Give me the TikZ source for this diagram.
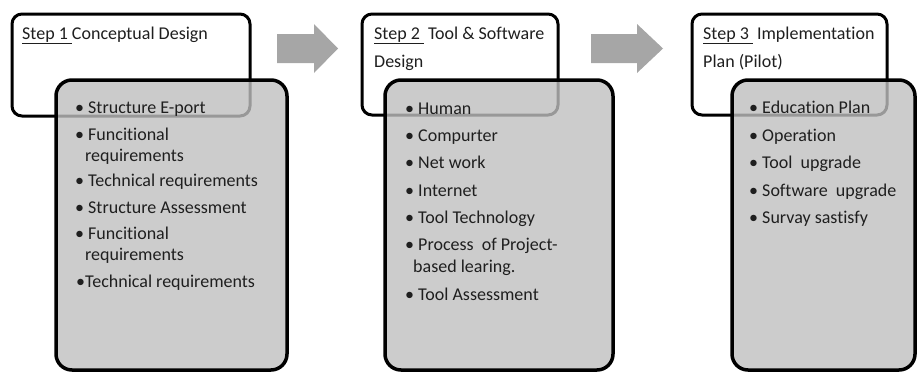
\documentclass[tikz,border=0pt]{standalone}
\usepackage{fontspec}
\setmainfont{Carlito}[RawFeature={-liga;-clig;-dlig;-calt;-rlig}]
\definecolor{boxgray}{gray}{0.75}
\definecolor{arrowgray}{gray}{0.65}
\definecolor{txt}{gray}{0.12}
\begin{document}
\begin{tikzpicture}[x=1pt,y=-1pt,
  hdr/.style={draw=black, fill=white, line width=3pt, rounded corners=10pt, anchor=north west, inner sep=0pt, outer sep=0pt},
  body/.style={draw=black, fill=boxgray, fill opacity=0.8, line width=3.5pt, rounded corners=16pt, anchor=north west, inner sep=0pt, outer sep=0pt},
  itm/.style={anchor=base west, inner sep=0pt, text=txt, font=\fontsize{18pt}{21pt}\selectfont},
  blockarrow/.style={fill=arrowgray, draw=none}]
\useasboundingbox (0,0) rectangle (917,372);

% header boxes
\node[hdr, minimum width=238pt, minimum height=102pt] (h1) at (12,14) {};
\node[hdr, minimum width=196pt, minimum height=101pt] (h2) at (362,14) {};
\node[hdr, minimum width=195pt, minimum height=101pt] (h3) at (692,14) {};

% body boxes (semi-transparent)
\node[body, minimum width=231pt, minimum height=290pt] (g1) at (56,80) {};
\node[body, minimum width=228pt, minimum height=290pt] (g2) at (385,80) {};
\node[body, minimum width=183pt, minimum height=290pt] (g3) at (732,80) {};

% block arrows
\fill[blockarrow] (277,34) -- (314,34) -- (314,24) -- (338,48.5) -- (314,73) -- (314,63) -- (277,63) -- cycle;
\fill[blockarrow] (591,34) -- (637,34) -- (637,24) -- (663,48.5) -- (637,73) -- (637,63) -- (591,63) -- cycle;

% header texts
\node[itm] (t1) at (22,39) {\underline{Step 1\ }Conceptual Design};
\node[itm] (t2a) at (374,39) {\underline{Step 2\ }\ Tool \& Software};
\node[itm] (t2b) at (374,67) {Design};
\node[itm] (t3a) at (703,39) {\underline{Step 3\ }\ Implementation};
\node[itm] (t3b) at (703,67) {Plan (Pilot)};

% step 1 items
\node[itm] (a1) at (75,113) {\textbullet\ Structure E-port};
\node[itm] (a2) at (75,140) {\textbullet\ Funcitional};
\node[itm] (a2b) at (85,161) {requirements};
\node[itm] (a3) at (75,186) {\textbullet\ Technical requirements};
\node[itm] (a4) at (75,213) {\textbullet\ Structure Assessment};
\node[itm] (a5) at (75,239) {\textbullet\ Funcitional};
\node[itm] (a5b) at (85,260) {requirements};
\node[itm] (a6) at (76,287) {\textbullet Technical requirements};

% step 2 items
\node[itm] (b1) at (405,114) {\textbullet\ Human};
\node[itm] (b2) at (405,141) {\textbullet\ Compurter};
\node[itm] (b3) at (405,168) {\textbullet\ Net work};
\node[itm] (b4) at (405,196) {\textbullet\ Internet};
\node[itm] (b5) at (405,223) {\textbullet\ Tool Technology};
\node[itm] (b6) at (405,250) {\textbullet\ Process\ \ of Project-};
\node[itm] (b6b) at (413,272) {based learing.};
\node[itm] (b7) at (405,300) {\textbullet\ Tool Assessment};

% step 3 items
\node[itm] (c1) at (749,113) {\textbullet\ Education Plan};
\node[itm] (c2) at (749,141) {\textbullet\ Operation};
\node[itm] (c3) at (749,168) {\textbullet\ Tool\ \ upgrade};
\node[itm] (c4) at (749,196) {\textbullet\ Software\ \ upgrade};
\node[itm] (c5) at (749,223) {\textbullet\ Survay sastisfy};
\end{tikzpicture}
\end{document}
